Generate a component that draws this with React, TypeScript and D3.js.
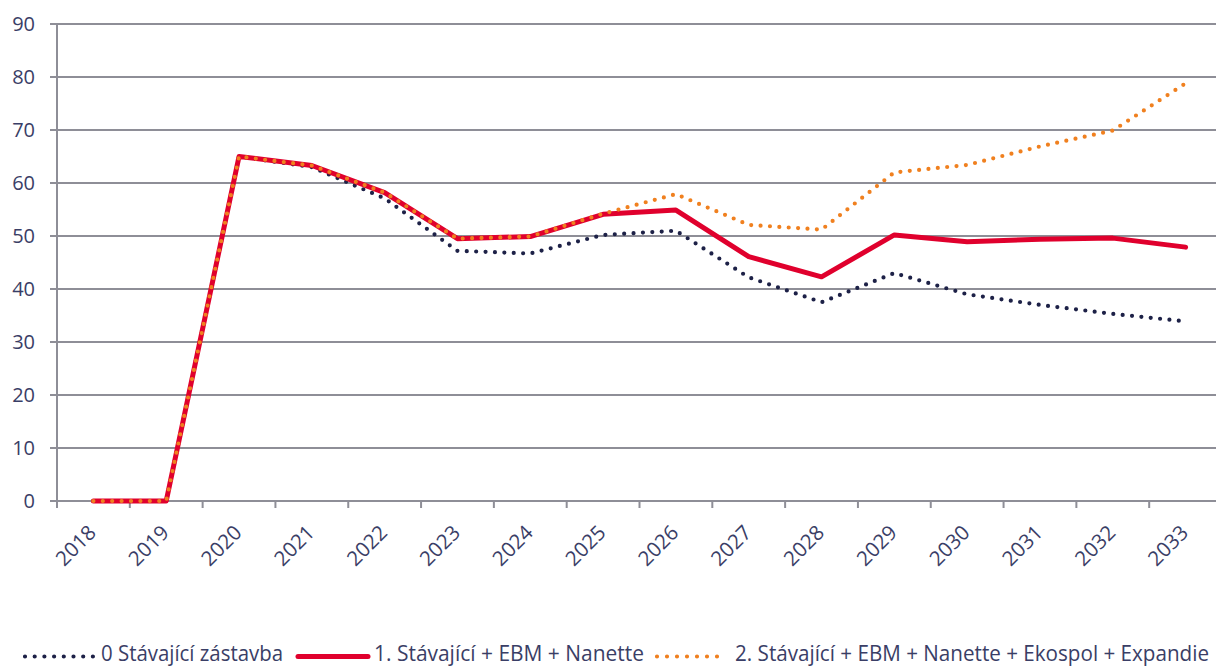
import React from "react";
import * as d3 from "d3";

const years = ["2018","2019","2020","2021","2022","2023","2024","2025","2026","2027","2028","2029","2030","2031","2032","2033"];
const seriesNames = ["0 Stávající zástavba", "1. Stávající + EBM + Nanette", "2. Stávající + EBM + Nanette + Ekospol + Expandie"];
const s0 = [0, 0, 65, 63.0, 57.1, 47.2, 46.7, 50.2, 51.0, 42.2, 37.5, 43.0, 39.0, 37.0, 35.3, 33.9];
const s1 = [0, 0, 65, 63.3, 58.2, 49.5, 49.9, 54.1, 54.9, 46.1, 42.3, 50.2, 48.9, 49.4, 49.6, 47.9];
const s2 = [0, 0, 65, 63.3, 58.2, 49.5, 49.9, 54.2, 57.9, 52.1, 51.2, 62.0, 63.4, 66.9, 69.9, 78.8];
const yTicks = [0, 10, 20, 30, 40, 50, 60, 70, 80, 90];

const NAVY = "#1d2147";
const RED = "#e0002d";
const ORANGE = "#f0801f";
const GRID = "#8e8e97";
const TEXT = "#3a3e66";
const FONT = "'Open Sans', sans-serif";

export default function App() {
  const W = 1216, H = 666;
  const x = d3.scaleBand<string>().domain(years).range([57, 1222]);
  const y = d3.scaleLinear().domain([0, 90]).range([501, 24]);
  const cx = (i: number) => (x(years[i]) as number) + x.bandwidth() / 2;
  const line = d3.line<number>().x((_, i) => cx(i)).y((v) => y(v));

  const boundaries = years.map((yr) => x(yr) as number).concat([1222]);

  return (
    <svg width={W} height={H} style={{ position: "absolute", left: 0, top: 0, display: "block", background: "#fff" }} fontFamily={FONT}>
      <rect x={0} y={0} width={W} height={H} fill="#fff" />
      {yTicks.map((t) => (
        <g key={t}>
          <line x1={50} x2={1222} y1={y(t)} y2={y(t)} stroke={GRID} strokeWidth={2} />
          <text x={35} y={y(t)} dy="0.36em" textAnchor="end" fontSize={20} fontWeight={400} fill={TEXT}>{t}</text>
        </g>
      ))}
      <line x1={57} x2={57} y1={y(90)} y2={508} stroke={GRID} strokeWidth={2} />
      {boundaries.map((b, i) => (
        <line key={i} x1={b} x2={b} y1={501} y2={508} stroke={GRID} strokeWidth={2} />
      ))}
      {years.map((yr, i) => (
        <text key={yr} transform={`translate(${cx(i) + 4},${534}) rotate(-45)`} textAnchor="end" fontSize={20.5} fontWeight={400} fill={TEXT}>{yr}</text>
      ))}
      <path d={line(s0) as string} fill="none" stroke={NAVY} strokeWidth={4.2} strokeDasharray="0 9.4" strokeLinecap="round" strokeLinejoin="round" />
      <path d={line(s1) as string} fill="none" stroke={RED} strokeWidth={5} strokeLinejoin="round" strokeLinecap="round" />
      <path d={line(s2) as string} fill="none" stroke={ORANGE} strokeWidth={4.2} strokeDasharray="0 9.4" strokeLinecap="round" strokeLinejoin="round" />

      <g>
        <line x1={25} x2={94} y1={656.5} y2={656.5} stroke={NAVY} strokeWidth={4.2} strokeDasharray="0 9.7" strokeLinecap="round" />
        <text x={101} y={661} fontSize={21} fontWeight={400} fill={TEXT} textLength={182} lengthAdjust="spacingAndGlyphs">{seriesNames[0]}</text>
        <line x1={298} x2={368} y1={656.5} y2={656.5} stroke={RED} strokeWidth={5} strokeLinecap="round" />
        <text x={374} y={661} fontSize={21} fontWeight={400} fill={TEXT} textLength={270} lengthAdjust="spacingAndGlyphs">{seriesNames[1]}</text>
        <line x1={657} x2={718} y1={656.5} y2={656.5} stroke={ORANGE} strokeWidth={4.2} strokeDasharray="0 10" strokeLinecap="round" />
        <text x={735} y={661} fontSize={21} fontWeight={400} fill={TEXT} textLength={474} lengthAdjust="spacingAndGlyphs">{seriesNames[2]}</text>
      </g>
    </svg>
  );
}
